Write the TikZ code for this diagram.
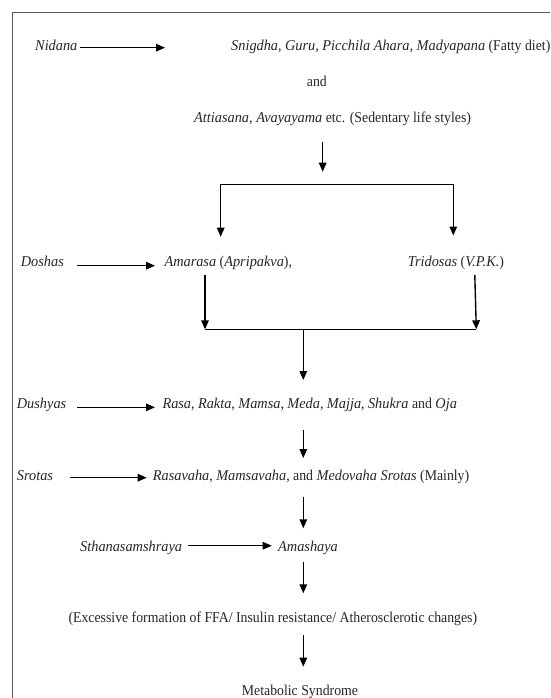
\documentclass[tikz,border=0pt]{standalone}
\usepackage{fontspec}
\setmainfont{Liberation Serif}[UprightFeatures={FakeStretch=0.92}, ItalicFeatures={FakeStretch=0.955}]
\usetikzlibrary{arrows.meta}
\begin{document}
\begin{tikzpicture}[x=1pt,y=-1pt,
  txt/.style={inner sep=0pt, font=\fontsize{15}{17}\selectfont, anchor=base west, text=black!85},
  arr/.style={-{Triangle[length=9pt,width=7.5pt]}, line width=1.4pt},
  darr/.style={{Triangle[length=9pt,width=7.5pt]}-{Triangle[length=9pt,width=7.5pt]}, line width=1.4pt},
  ln/.style={line width=1.4pt}]
\useasboundingbox (0,0) rectangle (550,698);
\clip (0,0) rectangle (550,698);
\fill[white] (0,0) rectangle (550,698);
\draw[black!65, line width=1.4pt] (12.7,720) -- (12.7,12.7) -- (580,12.7);

% text nodes
\node[txt] (nidana) at (35,50.7) {\textit{Nidana}};
\node[txt] (snig) at (231,51) {\textit{Snigdha}, \textit{Guru, Picchila Ahara, Madyapana} (Fatty diet)};
\node[txt] (and) at (306.7,86.5) {and};
\node[txt] (atti) at (194,123) {\textit{Attiasana, Avayayama} etc. (Sedentary life styles)};
\node[txt] (doshas) at (20.7,266.5) {\textit{Doshas}};
\node[txt] (amarasa) at (164.3,266.5) {\textit{Amarasa} (\textit{Apripakva}),};
\node[txt] (tridosas) at (407.7,266.5) {\textit{Tridosas} (\textit{V.P.K.})};
\node[txt] (dushyas) at (16.7,408.3) {\textit{Dushyas}};
\node[txt] (rasa) at (162.3,408.3) {\textit{Rasa}, \textit{Rakta}, \textit{Mamsa}, \textit{Meda}, \textit{Majja}, \textit{Shukra} and \textit{Oja}};
\node[txt] (srotas) at (16.7,480.7) {\textit{Srotas}};
\node[txt] (rasavaha) at (152.7,480.7) {\textit{Rasavaha}, \textit{Mamsavaha}, and \textit{Medovaha Srotas} (Mainly)};
\node[txt] (sthana) at (80,551.7) {\textit{Sthanasamshraya}};
\node[txt] (amashaya) at (278,551.7) {\textit{Amashaya}};
\node[txt] (excess) at (68.3,622.5) {(Excessive formation of FFA/ Insulin resistance/ Atherosclerotic changes)};
\node[txt] (metab) at (241.7,695) {Metabolic Syndrome};

% connector end points
\coordinate (n0) at (80,47.7);
\coordinate (n1) at (165,47.7);
\coordinate (a1) at (322.7,141.7);
\coordinate (a2) at (322.7,171.7);
\coordinate (b1) at (220.7,184.5);
\coordinate (b2) at (453.3,184.5);
\coordinate (amIn) at (220.7,236.7);
\coordinate (triIn) at (453.3,235.5);
\coordinate (d0) at (77,265.7);
\coordinate (d1) at (155,265.7);
\coordinate (amOut) at (205,275);
\coordinate (triOut) at (474.8,275);
\coordinate (j1) at (205,329.3);
\coordinate (j2) at (476.3,329.3);
\coordinate (jm) at (303.3,329.3);
\coordinate (jm2) at (303.3,380);
\coordinate (du0) at (77,407.3);
\coordinate (du1) at (155,407.3);
\coordinate (r1) at (303.3,430);
\coordinate (r2) at (303.3,458);
\coordinate (s0) at (70,477.7);
\coordinate (s1) at (146.7,477.7);
\coordinate (v1) at (303.3,496.7);
\coordinate (v2) at (303.3,528.3);
\coordinate (st0) at (188.3,545.7);
\coordinate (st1) at (271.7,545.7);
\coordinate (m1) at (303.3,561.7);
\coordinate (m2) at (303.3,593.3);
\coordinate (e1) at (303.3,635);
\coordinate (e2) at (303.3,666.7);

% connectors
\draw[arr] (n0) -- (n1);
\draw[arr] (a1) -- (a2);
\draw[darr] (amIn) -- (b1) -- (b2) -- (triIn);
\draw[arr] (d0) -- (d1);
\draw[arr] (amOut) -- (j1);
\draw[arr] (triOut) -- (j2);
\draw[ln] (j1) -- (j2);
\draw[arr] (jm) -- (jm2);
\draw[arr] (du0) -- (du1);
\draw[arr] (r1) -- (r2);
\draw[arr] (s0) -- (s1);
\draw[arr] (v1) -- (v2);
\draw[arr] (st0) -- (st1);
\draw[arr] (m1) -- (m2);
\draw[arr] (e1) -- (e2);
\end{tikzpicture}
\end{document}
